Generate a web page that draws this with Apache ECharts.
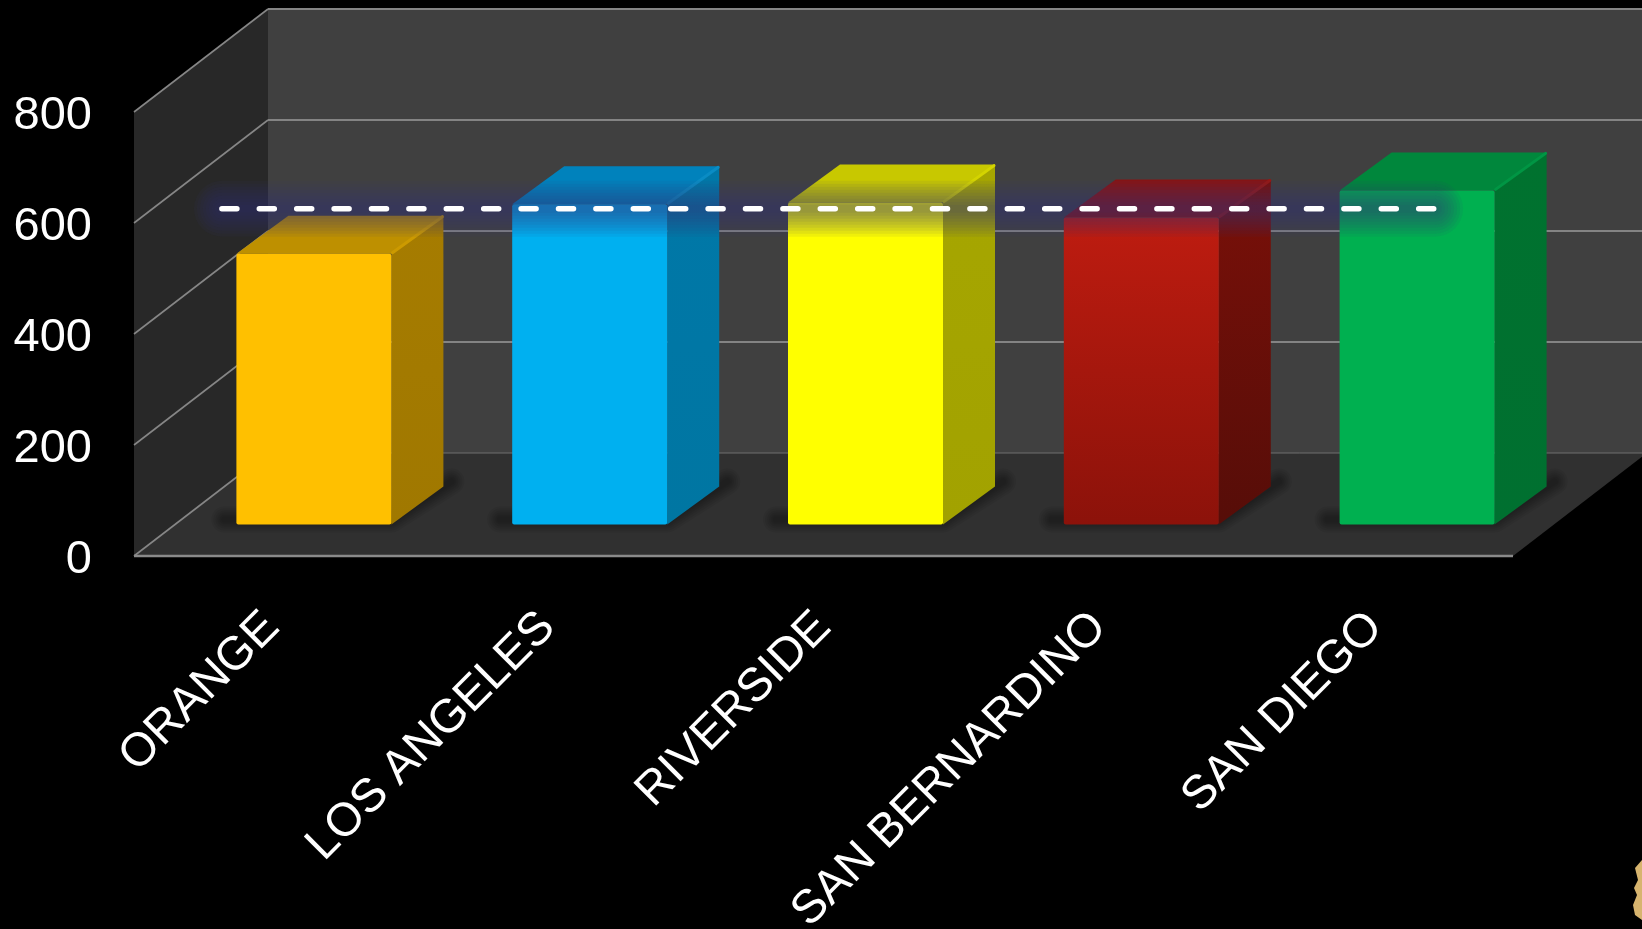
<!DOCTYPE html>
<html><head><meta charset="utf-8">
<style>html,body{margin:0;padding:0;background:#000}#c{width:1642px;height:929px}</style>
<script src="https://cdn.jsdelivr.net/npm/echarts@6/dist/echarts.min.js"></script>
</head><body><div id="c"></div>
<script>
const categories = ['ORANGE','LOS ANGELES','RIVERSIDE','SAN BERNARDINO','SAN DIEGO'];
const values = [488, 577, 580, 553, 602];
const targetValue = 569;
const yTicks = [0, 200, 400, 600, 800];

const faceColors = [['#FFC000','#FFC000'],['#00B0F0','#00B0F0'],['#FFFF00','#FFFF00'],['#BE1C10','#8C120A'],['#00B050','#00B050']];
const topColors  = ['#BE9000','#0082BC','#C8C800','#861414','#00873C'];
const sideColors = [['#A67C00','#A07800'],['#0078A8','#0076A2'],['#A6A600','#A2A200'],['#7A1009','#560D08'],['#00722F','#007030']];
const edgeColors = ['#CC9A00','#0A8CC4','#D4D400','#961814','#009644'];

const wallDx = 134, wallDy = -103, barDx = 42, barDy = -31.5, depthDx = 52, depthDy = -38, barW = 155;
const pts = a => ({points: a});
const chart = echarts.init(document.getElementById('c'), null, {renderer:'canvas'});

function renderWalls(params, api) {
  const band = api.size([1,0])[0];
  const L = api.coord([0,0])[0] - band/2, R = api.coord([4,0])[0] + band/2;
  const y0 = api.coord([0,0])[1], yTop = api.coord([0,800])[1];
  const kids = [
    {type:'polygon', shape:pts([[L+wallDx,yTop+wallDy],[R+wallDx+200,yTop+wallDy],[R+wallDx+200,y0+wallDy],[L+wallDx,y0+wallDy]]), style:{fill:'#404040'}},
    {type:'polygon', shape:pts([[L,yTop],[L+wallDx,yTop+wallDy],[L+wallDx,y0+wallDy],[L,y0]]), style:{fill:'#282828'}},
    {type:'polygon', shape:pts([[L,y0],[R,y0],[R+wallDx,y0+wallDy],[L+wallDx,y0+wallDy]]), style:{fill:'#303030'}}
  ];
  yTicks.forEach(t => {
    const y = api.coord([0,t])[1];
    kids.push({type:'line', shape:{x1:L,y1:y,x2:L+wallDx,y2:y+wallDy}, style:{stroke:'#868686',lineWidth:1.6}});
    kids.push({type:'line', shape:{x1:L+wallDx,y1:y+wallDy,x2:R+wallDx+200,y2:y+wallDy}, style:{stroke:t===0?'#6e6e6e':'#848484',lineWidth:t===0?1:1.8}});
  });
  const yb = api.coord([0,0])[1];
  kids.push({type:'line', shape:{x1:L,y1:yb,x2:R,y2:yb}, style:{stroke:'#8a8a8a',lineWidth:2.6}});
  return {type:'group', children:kids};
}
function renderFloorShadow(params, api) {
  const c = api.coord([api.value(0),0]);
  const x = c[0]+barDx-barW/2, y = c[1]+barDy;
  const kids = [];
  for (let w = 26; w >= 6; w -= 4) {
    kids.push({type:'polyline', shape:pts([[x-12,y-5],[x+barW,y-5],[x+barW+depthDx+8,y+depthDy-5]]),
      style:{fill:null,stroke:'rgba(0,0,0,0.06)',lineWidth:w,lineCap:'round',lineJoin:'round'}});
  }
  return {type:'group', children:kids};
}
function renderBar(params, api) {
  const i = params.dataIndex;
  const top = api.coord([api.value(0),api.value(1)]), base = api.coord([api.value(0),0]);
  const x = top[0]+barDx-barW/2, yT = top[1]+barDy, yB = base[1]+barDy, xR = x+barW;
  const grad = cs => new echarts.graphic.LinearGradient(0,0,0,1,[{offset:0,color:cs[0]},{offset:1,color:cs[1]}]);
  return {type:'group', children:[
    {type:'polygon', shape:pts([[x,yT],[xR,yT],[xR+depthDx,yT+depthDy],[x+depthDx,yT+depthDy]]), style:{fill:topColors[i]}},
    {type:'polygon', shape:pts([[xR,yT],[xR+depthDx,yT+depthDy],[xR+depthDx,yB+depthDy],[xR,yB]]), style:{fill:grad(sideColors[i])}},
    {type:'line', shape:{x1:xR+1,y1:yT-1,x2:xR+depthDx-1,y2:yT+depthDy+1}, style:{stroke:edgeColors[i],lineWidth:3,lineCap:'round'}},
    {type:'rect', shape:{x:x,y:yT,width:barW,height:yB-yT,r:2}, style:{fill:grad(faceColors[i])}}
  ]};
}
function renderTarget(params, api) {
  const y = api.coord([0,api.value(1)])[1]+barDy;
  const x1 = api.coord([0,0])[0]-50, x2 = api.coord([4,0])[0]+60;
  const kids = [];
  for (let w = 56; w >= 8; w -= 6) {
    kids.push({type:'line', shape:{x1:x1,y1:y,x2:x2,y2:y}, style:{stroke:'rgba(50,50,116,0.075)',lineWidth:w,lineCap:'round'}});
  }
  kids.push({type:'line', shape:{x1:x1,y1:y,x2:x2+1,y2:y}, style:{stroke:'#fff',lineWidth:5.5,lineDash:[15,22.4],lineCap:'round'}});
  return {type:'group', children:kids};
}
const barData = categories.map((c,i)=>[i,values[i]]);
chart.setOption({
  backgroundColor:'#000',
  animation:false,
  grid:{left:134,right:129,top:112,bottom:373,containLabel:false,outerBoundsMode:'none'},
  xAxis:{type:'category',data:categories,boundaryGap:true,
    axisLine:{show:false},axisTick:{show:false},splitLine:{show:false},
    axisLabel:{interval:0,rotate:45,margin:64,color:'#fff',fontSize:47,fontFamily:'Liberation Sans',hideOverlap:false}},
  yAxis:{type:'value',min:0,max:800,interval:200,
    axisLine:{show:false},axisTick:{show:false},splitLine:{show:false},
    axisLabel:{margin:42,color:'#fff',fontSize:47,fontFamily:'Liberation Sans',verticalAlign:'top',lineHeight:8}},
  graphic:[{type:'polygon',z:100,shape:{points:[[1642,860],[1635,868],[1638,880],[1634,888],[1637,895],[1633,905],[1635,915],[1642,920]]},style:{fill:'#D7B46E'}}],
  series:[
    {type:'custom',name:'walls',z:1,data:[[0,0]],encode:{x:0,y:1},renderItem:renderWalls,silent:true},
    {type:'custom',name:'floorShadow',z:2,data:barData,encode:{x:0,y:1},renderItem:renderFloorShadow,silent:true},
    {type:'custom',name:'bars',z:3,data:barData,encode:{x:0,y:1},renderItem:renderBar},
    {type:'custom',name:'target',z:4,data:[[0,targetValue]],encode:{x:0,y:1},renderItem:renderTarget,silent:true}
  ]
});
</script></body></html>
